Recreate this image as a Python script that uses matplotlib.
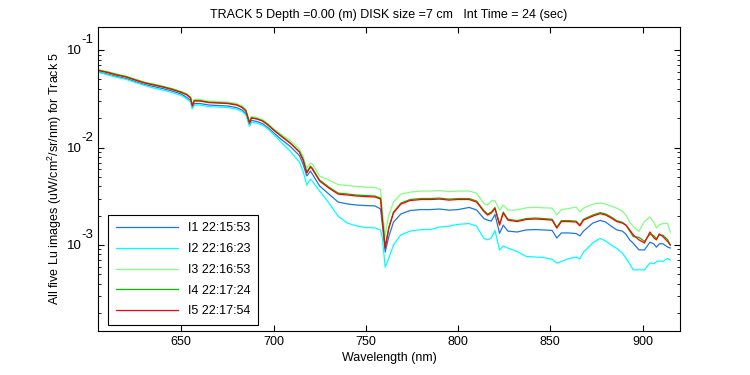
#!/usr/bin/env python3

from matplotlib import pyplot as plt
from matplotlib.ticker import LogLocator, FixedLocator, NullFormatter


plt.rcParams["font.family"] = ["Liberation Sans", "DejaVu Sans"]
plt.rcParams["mathtext.default"] = "regular"

TITLE = "TRACK 5 Depth =0.00 (m) DISK size =7 cm   Int Time = 24 (sec)"
X_LABEL = "Wavelength (nm)"
Y_LABEL = "All five Lu images (uW/cm$^2$/sr/nm) for Track 5"

labels = ["I1 22:15:53", "I2 22:16:23", "I3 22:16:53", "I4 22:17:24", "I5 22:17:54"]
colors = ["#1a75e8", "#00ffff", "#80ff80", "#00c000", "#ff0000"]

wavelength = [
    605, 610, 615, 620, 625, 630, 635, 640, 645, 650,
    653, 655, 656, 657, 660, 665, 670, 675, 680, 683,
    685, 687, 688, 691, 694, 697, 700, 704, 709, 714,
    716, 718, 720, 721, 723, 725, 730, 735, 740, 745,
    750, 755, 758, 759, 760.5, 761.5, 762.5, 765, 769, 774,
    780, 785, 790, 795, 800, 806, 810, 814, 816, 818,
    820, 822.5, 824.5, 827, 832, 837, 842, 846, 851, 853.5,
    856, 860, 864, 866, 868, 873, 877, 880, 883, 886,
    889, 891, 893, 895, 898, 901, 904, 906, 907.5, 909,
    911, 913.5, 915,
]

i1 = [
    0.0594, 0.0567, 0.0535, 0.0510, 0.0475, 0.0443, 0.0423, 0.0402, 0.0380, 0.0354,
    0.0326, 0.0304, 0.0252, 0.0283, 0.0283, 0.0273, 0.0270, 0.0267, 0.0257, 0.0242,
    0.0223, 0.0168, 0.0190, 0.0185, 0.0176, 0.0160, 0.0142, 0.0122, 0.0103, 0.00828,
    0.00677, 0.00511, 0.00574, 0.00535, 0.00464, 0.00403, 0.00333, 0.00276, 0.00264, 0.00257,
    0.00254, 0.00252, 0.00234, 0.00160, 0.000848, 0.00102, 0.00123, 0.00172, 0.00208, 0.00226,
    0.00231, 0.00231, 0.00234, 0.00228, 0.00231, 0.00243, 0.00229, 0.00187, 0.00180, 0.00176,
    0.00206, 0.00132, 0.00160, 0.00139, 0.00136, 0.00143, 0.00144, 0.00143, 0.00141, 0.00118,
    0.00133, 0.00133, 0.00131, 0.00124, 0.00139, 0.00168, 0.00179, 0.00172, 0.00156, 0.00143,
    0.00139, 0.00129, 0.00113, 0.00104, 0.000893, 0.000890, 0.00107, 0.00103, 0.000951, 0.00103,
    0.00103, 0.000955, 0.000932,
]

i2 = [
    0.0594, 0.0557, 0.0525, 0.0501, 0.0466, 0.0435, 0.0408, 0.0389, 0.0367, 0.0342,
    0.0315, 0.0293, 0.0250, 0.0273, 0.0273, 0.0263, 0.0260, 0.0258, 0.0248, 0.0234,
    0.0216, 0.0166, 0.0183, 0.0178, 0.0170, 0.0155, 0.0137, 0.0114, 0.00919, 0.00710,
    0.00574, 0.00413, 0.00475, 0.00453, 0.00402, 0.00358, 0.00270, 0.00198, 0.00168, 0.00157,
    0.00151, 0.00150, 0.00142, 0.00116, 0.000595, 0.000655, 0.000735, 0.00100, 0.00127, 0.00139,
    0.00144, 0.00144, 0.00153, 0.00156, 0.00163, 0.00166, 0.00156, 0.00117, 0.00113, 0.00118,
    0.00141, 0.000888, 0.000978, 0.000929, 0.000858, 0.000763, 0.000753, 0.000745, 0.000716, 0.000653,
    0.000677, 0.000726, 0.000753, 0.000721, 0.000846, 0.00105, 0.00117, 0.00110, 0.00100, 0.000927,
    0.000828, 0.000734, 0.000641, 0.000556, 0.000557, 0.000555, 0.000654, 0.000644, 0.000672, 0.000688,
    0.000677, 0.000729, 0.000702,
]

i3 = [
    0.0631, 0.0602, 0.0567, 0.0542, 0.0504, 0.0470, 0.0449, 0.0427, 0.0403, 0.0376,
    0.0358, 0.0334, 0.0277, 0.0311, 0.0311, 0.0299, 0.0296, 0.0293, 0.0283, 0.0266,
    0.0246, 0.0184, 0.0208, 0.0203, 0.0194, 0.0176, 0.0156, 0.0137, 0.0118, 0.00965,
    0.00818, 0.00617, 0.00693, 0.00678, 0.00588, 0.00510, 0.00464, 0.00417, 0.00408, 0.00398,
    0.00393, 0.00389, 0.00370, 0.00223, 0.00124, 0.00164, 0.00203, 0.00276, 0.00333, 0.00349,
    0.00358, 0.00358, 0.00362, 0.00353, 0.00358, 0.00358, 0.00341, 0.00267, 0.00257, 0.00283,
    0.00286, 0.00228, 0.00257, 0.00228, 0.00229, 0.00241, 0.00244, 0.00241, 0.00239, 0.00203,
    0.00231, 0.00237, 0.00245, 0.00219, 0.00239, 0.00263, 0.00270, 0.00263, 0.00251, 0.00239,
    0.00223, 0.00203, 0.00173, 0.00155, 0.00138, 0.00174, 0.00194, 0.00172, 0.00150, 0.00161,
    0.00166, 0.00167, 0.00136,
]

i4 = [
    0.0623, 0.0595, 0.0561, 0.0535, 0.0498, 0.0465, 0.0443, 0.0422, 0.0399, 0.0371,
    0.0350, 0.0326, 0.0270, 0.0304, 0.0304, 0.0292, 0.0289, 0.0286, 0.0276, 0.0260,
    0.0240, 0.0180, 0.0203, 0.0198, 0.0189, 0.0172, 0.0153, 0.0133, 0.0112, 0.00910,
    0.00762, 0.00561, 0.00646, 0.00616, 0.00535, 0.00464, 0.00393, 0.00341, 0.00334, 0.00326,
    0.00322, 0.00318, 0.00303, 0.00184, 0.000954, 0.00121, 0.00153, 0.00218, 0.00269, 0.00293,
    0.00300, 0.00300, 0.00303, 0.00296, 0.00300, 0.00300, 0.00283, 0.00226, 0.00208, 0.00218,
    0.00243, 0.00164, 0.00218, 0.00184, 0.00178, 0.00187, 0.00189, 0.00187, 0.00184, 0.00153,
    0.00178, 0.00178, 0.00176, 0.00161, 0.00184, 0.00203, 0.00215, 0.00208, 0.00194, 0.00178,
    0.00171, 0.00160, 0.00139, 0.00122, 0.00120, 0.00109, 0.00129, 0.00125, 0.00116, 0.00127,
    0.00126, 0.00114, 0.00100,
]

i5 = [
    0.0616, 0.0588, 0.0554, 0.0529, 0.0492, 0.0459, 0.0438, 0.0417, 0.0394, 0.0367,
    0.0346, 0.0322, 0.0267, 0.0300, 0.0300, 0.0289, 0.0286, 0.0283, 0.0273, 0.0257,
    0.0237, 0.0178, 0.0201, 0.0196, 0.0187, 0.0170, 0.0151, 0.0131, 0.0111, 0.00899,
    0.00744, 0.00548, 0.00631, 0.00602, 0.00522, 0.00453, 0.00384, 0.00333, 0.00326, 0.00318,
    0.00314, 0.00311, 0.00296, 0.00180, 0.000932, 0.00118, 0.00149, 0.00213, 0.00263, 0.00286,
    0.00293, 0.00293, 0.00296, 0.00289, 0.00293, 0.00293, 0.00276, 0.00221, 0.00203, 0.00213,
    0.00237, 0.00160, 0.00213, 0.00180, 0.00174, 0.00183, 0.00185, 0.00183, 0.00180, 0.00149,
    0.00174, 0.00174, 0.00172, 0.00157, 0.00180, 0.00198, 0.00210, 0.00203, 0.00189, 0.00174,
    0.00168, 0.00160, 0.00143, 0.00127, 0.00113, 0.00105, 0.00136, 0.00119, 0.00113, 0.00130,
    0.00122, 0.00109, 0.00100,
]

x_ticks = [650, 700, 750, 800, 850, 900]
y_ticks = [1e-1, 1e-2, 1e-3]
y_exponents = ["-1", "-2", "-3"]


def main():
    fig = plt.figure(figsize=(7.5, 3.75), dpi=100)
    ax = fig.add_axes([0.131, 0.118, 0.775, 0.811])

    series = [i1, i2, i3, i4, i5]
    for values, label, color in zip(series, labels, colors):
        ax.plot(wavelength, values, color=color, lw=0.9, label=label)

    ax.set_yscale("log")
    ax.set_xlim(605, 920)
    ax.set_ylim(1.32e-4, 0.174)

    ax.xaxis.set_major_locator(FixedLocator(x_ticks))
    ax.yaxis.set_major_locator(FixedLocator(y_ticks))
    ax.yaxis.set_major_formatter(NullFormatter())
    ax.yaxis.set_minor_locator(LogLocator(base=10, subs=range(2, 10), numticks=10))
    ax.yaxis.set_minor_formatter(NullFormatter())
    ax.tick_params(which="both", direction="in", top=True, right=True, labelsize=9)
    ax.tick_params(which="major", length=4, width=0.8)
    ax.tick_params(which="minor", length=2.5, width=0.6)
    for s in ax.spines.values():
        s.set_linewidth(0.8)

    # matlab style "10" with a big exponent
    for v, e in zip(y_ticks, y_exponents):
        ax.annotate("10", xy=(0, v), xycoords=("axes fraction", "data"),
                    xytext=(-12, -1), textcoords="offset points",
                    ha="right", va="center", fontsize=9.5)
        ax.annotate(e, xy=(0, v), xycoords=("axes fraction", "data"),
                    xytext=(-12, 7), textcoords="offset points",
                    ha="left", va="center", fontsize=9.5)

    ax.set_title(TITLE, fontsize=9, pad=6)
    ax.set_xlabel(X_LABEL, fontsize=9, labelpad=3)
    ax.set_ylabel(Y_LABEL, fontsize=9, labelpad=21)

    leg = ax.legend(
        loc="lower left",
        bbox_to_anchor=(0.017, 0.019),
        borderaxespad=0,
        fontsize=9,
        handlelength=5.0,
        handletextpad=0.8,
        labelspacing=0.7,
        borderpad=0.6,
        fancybox=False,
        framealpha=1,
    )
    leg.get_frame().set_edgecolor("black")
    leg.get_frame().set_linewidth(0.8)

    fig.savefig("out.png", dpi=100)


if __name__ == "__main__":
    main()
